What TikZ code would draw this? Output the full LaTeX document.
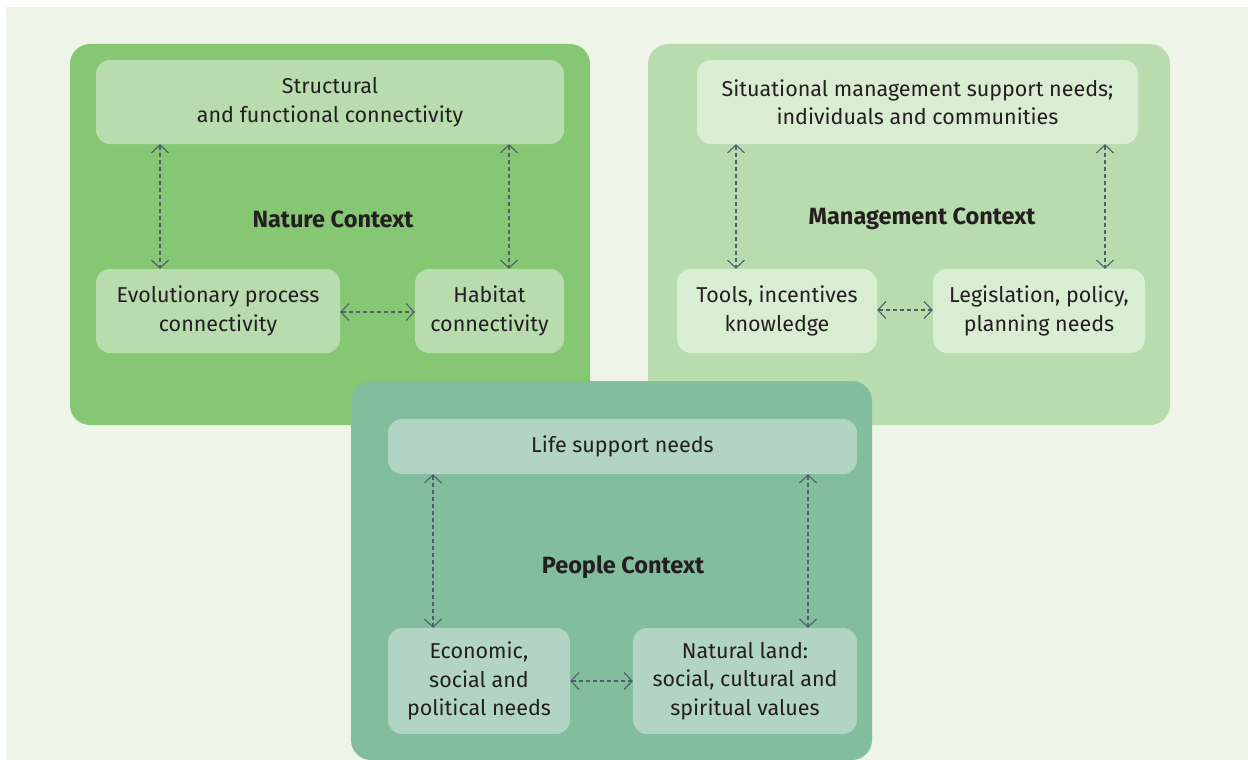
\documentclass[tikz,border=0pt]{standalone}
\usepackage{fontspec}
\setmainfont{Fira Sans}
\usetikzlibrary{arrows.meta}
\definecolor{bgc}{HTML}{EEF5E8}
\definecolor{natO}{HTML}{86C773}
\definecolor{natI}{HTML}{B9DCAE}
\definecolor{manO}{HTML}{B9DCAE}
\definecolor{manI}{HTML}{D9EDD2}
\definecolor{peoO}{HTML}{82BD9E}
\definecolor{peoI}{HTML}{B2D4C2}
\definecolor{arr}{HTML}{4F5F70}
\definecolor{txt}{HTML}{231F20}
\tikzset{
  outerbox/.style={rounded corners=20pt},
  innerbox/.style={rounded corners=14pt, inner sep=0pt, align=center, text=txt,
    font=\fontsize{21.5}{28.5}\selectfont},
  ttl/.style={font=\fontsize{23.5}{28}\selectfont\bfseries, text=txt},
  link/.style={draw=arr, line width=1.1pt, dash pattern=on 4pt off 3pt,
    {Straight Barb[length=8pt,width=17pt,line width=1.1pt]}-{Straight Barb[length=8pt,width=17pt,line width=1.1pt]}}
}
\begin{document}
\begin{tikzpicture}[x=1pt,y=-1pt]
\useasboundingbox (0,0) rectangle (1248,760);
\fill[white] (0,0) rectangle (1248,760);
\fill[bgc] (6,7) rectangle (1248,760);
% outer boxes
\fill[natO, outerbox] (70,44) rectangle (590,425);
\fill[manO, outerbox] (648,44) rectangle (1170,425);
\fill[peoO, outerbox] (351,381) rectangle (872,760);
% Nature
\node[innerbox, fill=natI, minimum width=468pt, minimum height=84pt] (s1) at (330,102) {Structural\\and functional connectivity};
\node[innerbox, fill=natI, minimum width=244pt, minimum height=84pt] (s2) at (218,311) {Evolutionary process\\connectivity};
\node[innerbox, fill=natI, minimum width=149pt, minimum height=84pt] (s3) at (489.5,311) {Habitat\\connectivity};
\node[ttl] (t1) at (333,219) {Nature Context};
\draw[link] (s1.south -| 160,0) -- (s2.north -| 160,0);
\draw[link] (s1.south -| 509,0) -- (s3.north -| 509,0);
\draw[link] (s2.east |- 0,312) -- (s3.west |- 0,312);
% Management
\node[innerbox, fill=manI, minimum width=441pt, minimum height=84pt] (m1) at (917.5,102) {Situational management support needs;\\individuals and communities};
\node[innerbox, fill=manI, minimum width=200pt, minimum height=84pt] (m2) at (777,311) {Tools, incentives\\knowledge};
\node[innerbox, fill=manI, minimum width=212pt, minimum height=84pt] (m3) at (1039,311) {Legislation, policy,\\planning needs};
\node[ttl] (t2) at (922,219) {Management Context};
\draw[link] (m1.south -| 736,0) -- (m2.north -| 736,0);
\draw[link] (m1.south -| 1105,0) -- (m3.north -| 1105,0);
\draw[link] (m2.east |- 0,310) -- (m3.west |- 0,310);
% People
\node[innerbox, fill=peoI, minimum width=469pt, minimum height=55pt] (p1) at (622.5,446.5) {Life support needs};
\node[innerbox, fill=peoI, minimum width=182pt, minimum height=106pt] (p2) at (479,681) {Economic,\\social and\\political needs};
\node[innerbox, fill=peoI, minimum width=224pt, minimum height=106pt] (p3) at (745,681) {Natural land:\\social, cultural and\\spiritual values};
\node[ttl] (t3) at (623,567) {People Context};
\draw[link] (p1.south -| 433,0) -- (p2.north -| 433,0);
\draw[link] (p1.south -| 808,0) -- (p3.north -| 808,0);
\draw[link] (p2.east |- 0,681) -- (p3.west |- 0,681);
\end{tikzpicture}
\end{document}
